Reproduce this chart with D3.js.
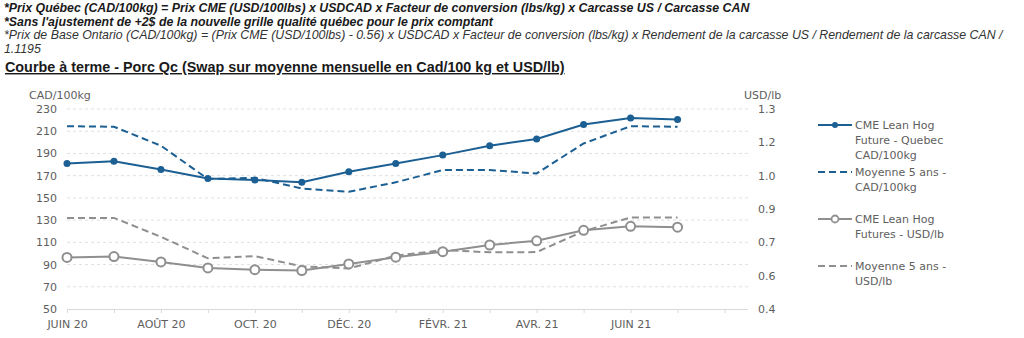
<!DOCTYPE html>
<html><head><meta charset="utf-8">
<script src="https://cdn.jsdelivr.net/npm/d3@7/dist/d3.min.js"></script>
<style>
html,body{margin:0;padding:0;background:#fff;}
svg{display:block;}
</style></head>
<body>
<svg id="c" width="1024" height="338"></svg>
<script>
// ---- data ----
const months = ["JUIN 20","JUIL. 20","AOÛT 20","SEPT. 20","OCT. 20","NOV. 20","DÉC. 20","JANV. 21","FÉVR. 21","MARS 21","AVR. 21","MAI 21","JUIN 21","JUIL. 21","AOÛT 21"];
const labeledMonths = ["JUIN 20","AOÛT 20","OCT. 20","DÉC. 20","FÉVR. 21","AVR. 21","JUIN 21"];
const cmeQuebecCAD = [181,183,175.5,167.5,166,164,173.5,181,188.5,197,203,216,222,220.5];
const moy5CAD = [214.5,214,197,167,168,158.5,155.5,164,175,175,172,199,214.5,214];
const cmeUSD = [0.632,0.636,0.612,0.585,0.577,0.573,0.603,0.633,0.658,0.688,0.707,0.754,0.772,0.768];
const moy5USD = [0.810,0.810,0.725,0.628,0.638,0.592,0.582,0.640,0.665,0.655,0.656,0.750,0.812,0.812];
const leftTicks = [50,70,90,110,130,150,170,190,210,230];
const rightTickValues = [0.4,0.55,0.7,0.85,1.0,1.15,1.3];
const rightTickLabels = ["0.4","0.6","0.7","0.9","1.0","1.2","1.3"];
const headerLines = [
 "*Prix Québec (CAD/100kg) = Prix CME (USD/100lbs) x USDCAD x Facteur de conversion (lbs/kg) x Carcasse US / Carcasse CAN",
 "*Sans l'ajustement de +2$ de la nouvelle grille qualité québec pour le prix comptant",
 "*Prix de Base Ontario (CAD/100kg) = (Prix CME (USD/100lbs) - 0.56) x USDCAD x Facteur de conversion (lbs/kg) x Rendement de la carcasse US / Rendement de la carcasse CAN /",
 "1.1195"
];
const chartTitle = "Courbe à terme - Porc Qc (Swap sur moyenne mensuelle en Cad/100 kg et USD/lb)";
const legendItems = [
 {lines:["CME Lean Hog","Future - Quebec","CAD/100kg"], key:"blueSolid"},
 {lines:["Moyenne 5 ans -","CAD/100kg"], key:"blueDash"},
 {lines:["CME Lean Hog","Futures - USD/lb"], key:"graySolid"},
 {lines:["Moyenne 5 ans -","USD/lb"], key:"grayDash"}
];

// ---- drawing ----
const svg = d3.select("#c");
const BLUE = "#1c5f93", GRAY = "#8f8f8f", TXT = "#5e5e5e";
const hdr = svg.append("g").attr("font-family","'Liberation Sans', Arial, sans-serif");
hdr.append("text").attr("x",4).attr("y",12).attr("font-size",12.35).attr("font-weight","bold").attr("font-style","italic").attr("fill","#1a1a1a").text(headerLines[0]);
hdr.append("text").attr("x",4).attr("y",25.5).attr("font-size",12.35).attr("font-weight","bold").attr("font-style","italic").attr("fill","#1a1a1a").text(headerLines[1]);
hdr.append("text").attr("x",4).attr("y",39).attr("font-size",12.35).attr("font-style","italic").attr("fill","#333").text(headerLines[2]);
hdr.append("text").attr("x",4).attr("y",52.5).attr("font-size",12.35).attr("font-style","italic").attr("fill","#333").text(headerLines[3]);
hdr.append("text").attr("x",5).attr("y",72).attr("font-size",14.35).attr("font-weight","bold").attr("fill","#1a1a1a").attr("text-decoration","underline").text(chartTitle);

const x = d3.scaleLinear().domain([0,14.5]).range([67,748]);
const yL = d3.scaleLinear().domain([50,230]).range([309,109]);
const yR = d3.scaleLinear().domain([0.4,1.3]).range([309,109]);

const g = svg.append("g").attr("font-family","'DejaVu Sans', Verdana, sans-serif").attr("font-size",11);

// gridlines
g.append("g").selectAll("line").data(leftTicks.filter(d=>d>50)).join("line")
 .attr("x1",x(0)).attr("x2",x(14.5)).attr("y1",d=>yL(d)).attr("y2",d=>yL(d))
 .attr("stroke","#e0e0e0").attr("stroke-width",1).attr("stroke-dasharray","3,3");

// x axis
const xAxis = d3.axisBottom(x).tickValues(d3.range(months.length)).tickSize(4)
 .tickFormat(i => labeledMonths.includes(months[i]) ? months[i] : "");
const xa = g.append("g").attr("transform",`translate(0,${yL(50)})`).call(xAxis);
xa.select(".domain").attr("stroke","#d9d9d9").attr("d",`M${x(0)},0.5H${x(14.5)}`);
xa.selectAll(".tick line").attr("stroke","#d9d9d9");
xa.selectAll(".tick text").attr("fill",TXT).attr("font-size",11).attr("font-family","'DejaVu Sans', Verdana, sans-serif").attr("dy","1.1em");

// left axis
const la = g.append("g").attr("transform",`translate(57,0)`).call(d3.axisLeft(yL).tickValues(leftTicks).tickSize(0).tickPadding(0));
la.select(".domain").remove();
la.selectAll(".tick text").attr("fill",TXT).attr("font-size",11).attr("font-family","'DejaVu Sans', Verdana, sans-serif");
g.append("text").attr("x",29).attr("y",99).attr("fill",TXT).text("CAD/100kg");

// right axis
const ra = g.append("g").attr("transform",`translate(758,0)`).call(d3.axisRight(yR).tickValues(rightTickValues).tickSize(0).tickPadding(0)
  .tickFormat((d,i)=>rightTickLabels[i]));
ra.select(".domain").remove();
ra.selectAll(".tick text").attr("fill",TXT).attr("font-size",11).attr("font-family","'DejaVu Sans', Verdana, sans-serif");
g.append("text").attr("x",744).attr("y",99).attr("fill",TXT).text("USD/lb");

// lines
const lineL = d3.line().x((d,i)=>x(i)).y(d=>yL(d));
const lineR = d3.line().x((d,i)=>x(i)).y(d=>yR(d));
g.append("path").attr("d",lineR(moy5USD)).attr("fill","none").attr("stroke",GRAY).attr("stroke-width",2).attr("stroke-dasharray","7,4");
g.append("path").attr("d",lineR(cmeUSD)).attr("fill","none").attr("stroke",GRAY).attr("stroke-width",2);
g.append("g").selectAll("circle").data(cmeUSD).join("circle")
 .attr("cx",(d,i)=>x(i)).attr("cy",d=>yR(d)).attr("r",4.5).attr("fill","#fff").attr("stroke",GRAY).attr("stroke-width",2);
g.append("path").attr("d",lineL(moy5CAD)).attr("fill","none").attr("stroke",BLUE).attr("stroke-width",2).attr("stroke-dasharray","7,4");
g.append("path").attr("d",lineL(cmeQuebecCAD)).attr("fill","none").attr("stroke",BLUE).attr("stroke-width",2);
g.append("g").selectAll("circle").data(cmeQuebecCAD).join("circle")
 .attr("cx",(d,i)=>x(i)).attr("cy",d=>yL(d)).attr("r",3.5).attr("fill",BLUE);

// legend
const styles = {
 blueSolid:{c:BLUE,dash:null,m:"fill"},
 blueDash:{c:BLUE,dash:"7,4",m:null},
 graySolid:{c:GRAY,dash:null,m:"open"},
 grayDash:{c:GRAY,dash:"7,4",m:null}
};
const legY = [125,172,219,266];
const lg = g.append("g");
legendItems.forEach((it,k)=>{
 const s = styles[it.key], y0 = legY[k];
 lg.append("line").attr("x1",818).attr("x2",852).attr("y1",y0).attr("y2",y0).attr("stroke",s.c).attr("stroke-width",2).attr("stroke-dasharray",s.dash);
 if(s.m==="fill") lg.append("circle").attr("cx",835).attr("cy",y0).attr("r",3).attr("fill",s.c);
 if(s.m==="open") lg.append("circle").attr("cx",835).attr("cy",y0).attr("r",3.5).attr("fill","#fff").attr("stroke",s.c).attr("stroke-width",1.8);
 it.lines.forEach((t,j)=>{
  lg.append("text").attr("x",855).attr("y",y0+j*15).attr("dy","0.35em").attr("fill",TXT).text(t);
 });
});
</script>
</body></html>
